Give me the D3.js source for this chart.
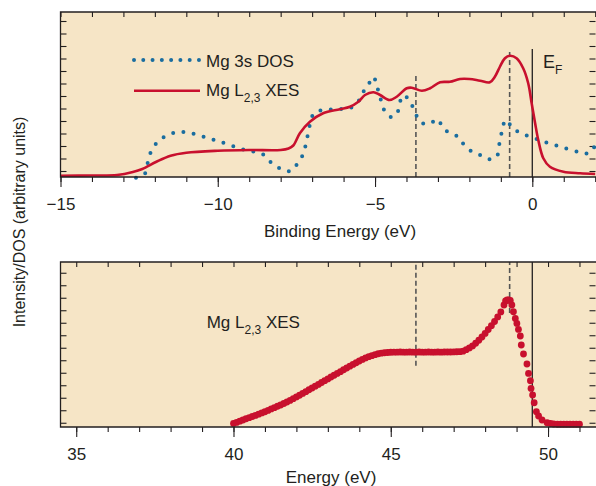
<!DOCTYPE html>
<html>
<head>
<meta charset="utf-8">
<script src="https://cdn.jsdelivr.net/npm/d3@7"></script>
<style>
  body { margin: 0; background: #fff; }
  svg { display: block; font-family: "Liberation Sans", Arial, sans-serif; }
</style>
</head>
<body>
<svg id="chart" width="596" height="486"></svg>
<script>
// --- data (arbitrary intensity units) ---

// top panel: binding energy (eV)
const bindingMajor = [-15, -10, -5, 0];

// Mg L2,3 XES, solid red curve
const xesBE = [-15, -14, -13.2, -12.7, -12.4, -11.95, -11.5, -11, -10, -9, -8, -7.75, -7.6, -7.39, -7.07,
  -6.65, -6.12, -5.8, -5.53, -5.32, -5.05, -4.84, -4.54, -4.31, -3.99, -3.83, -3.51, -3.25, -2.93,
  -2.62, -2.3, -2, -1.66, -1.35, -1.19, -1.03, -0.87, -0.71, -0.5, -0.29, -0.13, -0.02, 0.09, 0.19,
  0.35, 0.56, 0.99, 1.52, 2];
const xesBEVal = [-0.38, -0.36, -0.32, -0.08, 0.16, 0.74, 1.22, 1.46, 1.62, 1.68, 1.68, 1.8, 2.04, 3.02, 3.94,
  4.62, 4.94, 5.14, 5.54, 6.08, 6.3, 6.08, 5.68, 5.94, 6.62, 6.66, 6.42, 6.62, 7.1,
  7.14, 7.36, 7.36, 7.22, 7.1, 7.54, 8.34, 9.02, 9.22, 9.02, 8.22, 7.02, 5.42, 3.82, 2.48,
  1.02, 0.34, -0.06, -0.18, -0.24];

// Mg 3s DOS, dotted blue curve
const dosBE = [-12.6, -12.31, -12.22, -12.13, -11.95, -11.69, -11.31, -10.97, -10.65, -10.33, -10, -9.64,
  -9.26, -8.95, -8.59, -8.32, -8, -7.68, -7.46, -7.26, -7.19, -7.1, -7.05, -6.91, -6.56, -6.17, -5.8,
  -5.54, -5.38, -5.19, -5.05, -4.95, -4.86, -4.78, -4.68, -4.47, -4.28, -4.21, -4.1, -3.92, -3.78,
  -3.64, -3.45, -3.2, -3.04, -2.88, -2.7, -2.4, -2.19, -1.96, -1.66, -1.37, -1.13, -1.07, -1, -0.95,
  -0.84, -0.62, -0.33, 0.03, 0.37, 0.75, 1.11, 1.52, 1.81, 2];
const dosVal = [-0.54, -0.18, 0.74, 1.5, 2.22, 2.74, 3.1, 3.1, 2.88, 2.66, 2.4, 2.1,
  1.76, 1.6, 1.38, 0.72, 0.18, 0, 0.62, 1.5, 2.34, 3.28, 4, 4.7, 4.88, 4.96, 5.02,
  5.54, 6.3, 7.02, 7.54, 6.88, 6.08, 5.42, 4.74, 4.3, 4.74, 5.5, 6.06, 5.68, 5.02,
  4.26, 3.78, 3.86, 4.16, 3.68, 3.14, 2.8, 2.16, 1.62, 1.28, 0.94, 1.14, 1.9, 2.7, 3.42,
  4.08, 3.42, 2.98, 2.66, 2.34, 2.06, 1.78, 1.5, 1.42, 2.08];

// bottom panel: photon energy (eV)
const energyMajor = [35, 40, 45, 50];

// Mg L2,3 XES measured points
const xesE = [40.0, 40.1, 40.2, 40.3, 40.4, 40.5, 40.6, 40.7, 40.8, 40.9,
  41.0, 41.1, 41.2, 41.3, 41.4, 41.5, 41.6, 41.7, 41.8, 41.9,
  42.0, 42.1, 42.2, 42.3, 42.4, 42.5, 42.6, 42.7, 42.8, 42.9,
  43.0, 43.1, 43.2, 43.3, 43.4, 43.5, 43.6, 43.7, 43.8, 43.9,
  44.0, 44.1, 44.2, 44.3, 44.4, 44.5, 44.6, 44.7, 44.8, 44.9,
  45.0, 45.1, 45.2, 45.3, 45.4, 45.5, 45.6, 45.7, 45.8, 45.9,
  46.0, 46.1, 46.2, 46.3, 46.4, 46.5, 46.6, 46.7, 46.8, 46.9,
  47.0, 47.1, 47.2, 47.3, 47.4, 47.5, 47.6, 47.7, 47.8, 47.9,
  48.0, 48.1, 48.2, 48.3, 48.4, 48.5, 48.6, 48.65, 48.7, 48.75, 48.8,
  48.85, 48.9, 48.96, 49.01, 49.06, 49.12, 49.15, 49.22, 49.33, 49.38, 49.44, 49.46,
  49.51, 49.56, 49.63, 49.7, 49.81, 49.97, 50.08, 50.18, 50.3, 50.4, 50.5, 50.6, 50.7,
  50.8, 50.9, 51.0];
const xesEVal = [-0.05, 0.03, 0.13, 0.22, 0.32, 0.41, 0.5, 0.59, 0.69, 0.79,
  0.88, 0.99, 1.11, 1.21, 1.32, 1.42, 1.54, 1.66, 1.79, 1.93,
  2.07, 2.2, 2.35, 2.49, 2.64, 2.78, 2.93, 3.07, 3.22, 3.37,
  3.51, 3.66, 3.8, 3.95, 4.09, 4.24, 4.38, 4.53, 4.67, 4.8,
  4.94, 5.07, 5.19, 5.29, 5.37, 5.45, 5.52, 5.57, 5.6, 5.62,
  5.64, 5.65, 5.65, 5.66, 5.65, 5.65, 5.66, 5.65, 5.65, 5.66,
  5.65, 5.65, 5.66, 5.65, 5.65, 5.66, 5.65, 5.66, 5.66, 5.66,
  5.67, 5.68, 5.69, 5.73, 5.85, 5.99, 6.15, 6.36, 6.6, 6.86,
  7.15, 7.46, 7.77, 8.1, 8.47, 8.87, 9.42, 9.75, 9.82, 9.82, 9.79,
  9.42, 8.88, 8.35, 7.95, 7.47, 6.94, 6.22, 5.5, 4.7, 3.95, 3.36, 2.75,
  2.22, 1.6, 0.88, 0.54, 0.22, 0, -0.06, -0.1, -0.12, -0.12, -0.12, -0.12, -0.12,
  -0.12, -0.12, -0.12];

// reference lines: position and the span they cover [from, to]
const topMarkE = [-3.7, -0.72, 0];
const topMarkSpan = [[-0.48, 7.84], [-0.48, 9.76], [-0.48, 9.76]];
const topMarkDashed = [true, true, false];
const botMarkE = [45.8, 48.78, 49.5];
const botMarkSpan = [[4.56, 12.86], [8.78, 12.86], [-0.34, 12.86]];
const botMarkDashed = [true, true, false];

const RED = '#c8102e', BLUE = '#1a6d9f', BG = '#f6e5c6', INK = '#231f20';

const svg = d3.select('#chart');

function drawPanel(opt) {
  const x = d3.scaleLinear().domain(opt.xDomain).range([60.5, 595.2]);
  const y = d3.scaleLinear().domain(opt.yDomain).range([opt.y1, opt.y0]);
  const g = svg.append('g');

  g.append('rect')
    .attr('x', 60.5).attr('y', opt.y0)
    .attr('width', 540).attr('height', opt.y1 - opt.y0)
    .attr('fill', BG);

  const minor = d3.range(Math.ceil(opt.xDomain[0]), Math.floor(opt.xDomain[1]) + 1);
  const yt = d3.range(0, 13);

  // bottom ticks (outward), minor and major
  g.append('g').attr('transform', `translate(0,${opt.y1})`)
    .call(d3.axisBottom(x).tickValues(minor).tickSize(5).tickFormat(''))
    .call(a => a.select('.domain').remove());
  const maj = g.append('g').attr('transform', `translate(0,${opt.y1})`)
    .call(d3.axisBottom(x).tickValues(opt.major).tickSize(10).tickFormat(d3.format('d')))
    .call(a => a.select('.domain').remove());
  maj.selectAll('text').attr('y', 33).attr('dy', null)
    .attr('font-size', 17).attr('font-family', '"Liberation Sans", Arial, sans-serif').attr('fill', INK);

  // top ticks (inward)
  g.append('g').attr('transform', `translate(0,${opt.y0})`)
    .call(d3.axisTop(x).tickValues(minor).tickSize(-5).tickFormat(''))
    .call(a => a.select('.domain').remove());
  // left / right ticks (inward)
  g.append('g').attr('transform', 'translate(60.5,0)')
    .call(d3.axisLeft(y).tickValues(yt).tickSize(-6).tickFormat(''))
    .call(a => a.select('.domain').remove());
  g.append('g').attr('transform', 'translate(595.5,0)')
    .call(d3.axisRight(y).tickValues(yt).tickSize(-6).tickFormat(''))
    .call(a => a.select('.domain').remove());
  g.selectAll('.tick line').attr('stroke', INK).attr('stroke-width', 1.1);

  // vertical reference lines
  opt.markE.forEach((e, i) => {
    g.append('line')
      .attr('x1', x(e)).attr('x2', x(e))
      .attr('y1', y(opt.markSpan[i][0])).attr('y2', y(opt.markSpan[i][1]))
      .attr('stroke', opt.markDashed[i] ? '#555' : INK)
      .attr('stroke-width', opt.markDashed[i] ? 1.6 : 1.3)
      .attr('stroke-dasharray', opt.markDashed[i] ? '5,3' : null);
  });

  opt.draw(g, x, y);

  // frame
  g.append('path')
    .attr('d', `M598,${opt.y0}H60.5V${opt.y1}H598`)
    .attr('fill', 'none').attr('stroke', INK).attr('stroke-width', 1.3);
  return g;
}

// --- top panel ---
drawPanel({
  xDomain: [-15, 2], yDomain: [-0.48, 12.72], y0: 12, y1: 177,
  major: bindingMajor, markE: topMarkE, markSpan: topMarkSpan, markDashed: topMarkDashed,
  draw(g, x, y) {
    const line = d3.line().x(d => x(d[0])).y(d => y(d[1])).curve(d3.curveCatmullRom.alpha(0.5));
    g.append('path')
      .attr('d', line(d3.zip(dosBE, dosVal)))
      .attr('fill', 'none').attr('stroke', BLUE).attr('stroke-width', 4)
      .attr('stroke-linecap', 'round').attr('stroke-dasharray', '0,10.4');
    g.append('path')
      .attr('d', line(d3.zip(xesBE, xesBEVal)))
      .attr('fill', 'none').attr('stroke', RED).attr('stroke-width', 2.6);
  }
});

// --- bottom panel ---
drawPanel({
  xDomain: [34.5, 51.5], yDomain: [-0.34, 12.86], y0: 262, y1: 427,
  major: energyMajor, markE: botMarkE, markSpan: botMarkSpan, markDashed: botMarkDashed,
  draw(g, x, y) {
    g.append('g').selectAll('circle')
      .data(d3.zip(xesE, xesEVal))
      .join('circle')
        .attr('cx', d => x(d[0]))
        .attr('cy', d => y(d[1]))
        .attr('r', 3.4)
        .attr('fill', RED);
  }
});

// --- legend and labels ---
const txt = svg.append('g').attr('fill', INK).attr('font-size', 17);

txt.append('line')
  .attr('x1', 134).attr('x2', 199).attr('y1', 60).attr('y2', 60)
  .attr('stroke', BLUE).attr('stroke-width', 4)
  .attr('stroke-linecap', 'round').attr('stroke-dasharray', '0,9.28');
txt.append('text').attr('x', 206).attr('y', 67.3).text('Mg 3s DOS');

txt.append('line')
  .attr('x1', 134).attr('x2', 200).attr('y1', 90.7).attr('y2', 90.7)
  .attr('stroke', RED).attr('stroke-width', 2.6);

function xesLabel(xp, yp) {
  const t = txt.append('text').attr('x', xp).attr('y', yp);
  t.append('tspan').text('Mg L');
  t.append('tspan').attr('font-size', 12).attr('dy', 6).text('2,3');
  t.append('tspan').attr('dy', -6).text(' XES');
}
xesLabel(206, 95.7);
xesLabel(206.7, 328.3);

const ef = txt.append('text').attr('x', 543).attr('y', 68.3).attr('font-size', 18);
ef.append('tspan').text('E');
ef.append('tspan').attr('font-size', 12).attr('dy', 6).text('F');

txt.append('text').attr('x', 340).attr('y', 236.5).attr('text-anchor', 'middle')
  .text('Binding Energy (eV)');
txt.append('text').attr('x', 331).attr('y', 482.5).attr('text-anchor', 'middle')
  .text('Energy (eV)');
txt.append('text')
  .attr('transform', 'translate(25,222) rotate(-90)')
  .attr('text-anchor', 'middle').attr('font-size', 16)
  .text('Intensity/DOS (arbitrary units)');
</script>
</body>
</html>
